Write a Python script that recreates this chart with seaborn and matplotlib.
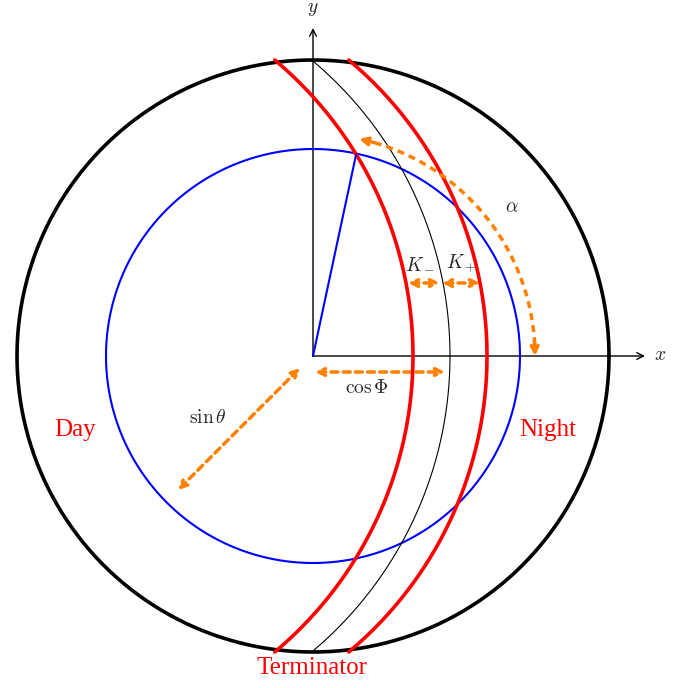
import numpy as np
import matplotlib
matplotlib.use("Agg")
import matplotlib.pyplot as plt
import seaborn as sns
from matplotlib.patches import FancyArrowPatch

sns.set_theme(style="white")
plt.rcParams['font.family'] = ['Liberation Serif', 'DejaVu Serif']
plt.rcParams['mathtext.fontset'] = 'cm'

# geometry (pixel units)
center = (313, 356)
outer_r = 296
inner_r = 207
arc_r = 386
term_cx = 64
red_cxs = [27, 101]
blue_pt = (356, 155)
alpha_r = 222
alpha_angles = (77, 1)

fig = plt.figure(figsize=(6.94, 6.88), dpi=100)
ax = fig.add_axes([0, 0, 1, 1])
ax.set_xlim(0, 694); ax.set_ylim(688, 0); ax.axis('off'); ax.set_aspect('equal')
cx, cy = center
t = np.linspace(0, 2*np.pi, 400)
ax.plot(cx+outer_r*np.cos(t), cy+outer_r*np.sin(t), color='black', lw=2.6)
ax.plot(cx+inner_r*np.cos(t), cy+inner_r*np.sin(t), color='blue', lw=1.5)
yy = np.linspace(-outer_r, outer_r, 400)
ax.plot(term_cx+np.sqrt(arc_r**2-yy**2), cy+yy, color='black', lw=0.8)
for c in red_cxs:
    ax.plot(c+np.sqrt(arc_r**2-yy**2), cy+yy, color='red', lw=2.6)
ax.plot([cx, blue_pt[0]], [cy, blue_pt[1]], color='blue', lw=1.5)

def arr(p, q, style='->', color='black', lw=1, ls='-'):
    ax.add_patch(FancyArrowPatch(p, q, arrowstyle=style, mutation_scale=12, color=color,
                                 lw=lw, linestyle=ls, shrinkA=0, shrinkB=0))
arr((cx, cy), (645, cy))
arr((cx, cy), (cx, 28))
o = '#ff8000'
for p, q in [((300, 368), (178, 490)), ((315, 372), (445, 372)), ((408, 283), (440, 283)), ((442, 283), (480, 283))]:
    arr(p, q, style='<->', color=o, lw=2.5, ls=(0, (2, 1.5)))
ang = np.radians(np.linspace(alpha_angles[0], alpha_angles[1], 100))
ax.plot(cx+alpha_r*np.cos(ang), cy-alpha_r*np.sin(ang), color=o, lw=2.5, ls=(0, (2, 1.5)))
for a0, a1 in [(alpha_angles[0]-3, alpha_angles[0]+1), (alpha_angles[1]+3, alpha_angles[1]-1)]:
    p = (cx+alpha_r*np.cos(np.radians(a0)), cy-alpha_r*np.sin(np.radians(a0)))
    q = (cx+alpha_r*np.cos(np.radians(a1)), cy-alpha_r*np.sin(np.radians(a1)))
    arr(p, q, style='->', color=o, lw=2.5)

ax.text(313, 10, r'$y$', ha='center', va='center', fontsize=14)
ax.text(660, 356, r'$x$', ha='center', va='center', fontsize=14)
ax.text(512, 208, r'$\alpha$', ha='center', va='center', fontsize=14)
ax.text(420, 263, r'$K_-$', ha='center', va='center', fontsize=14)
ax.text(461, 263, r'$K_+$', ha='center', va='center', fontsize=14)
ax.text(367, 388, r'$\cos\Phi$', ha='center', va='center', fontsize=14)
ax.text(208, 418, r'$\sin\theta$', ha='center', va='center', fontsize=14)
ax.text(75, 430, 'Day', color='red', ha='center', va='center', fontsize=18)
ax.text(548, 430, 'Night', color='red', ha='center', va='center', fontsize=18)
ax.text(312, 668, 'Terminator', color='red', ha='center', va='center', fontsize=18)
fig.savefig('out.png', dpi=100)
